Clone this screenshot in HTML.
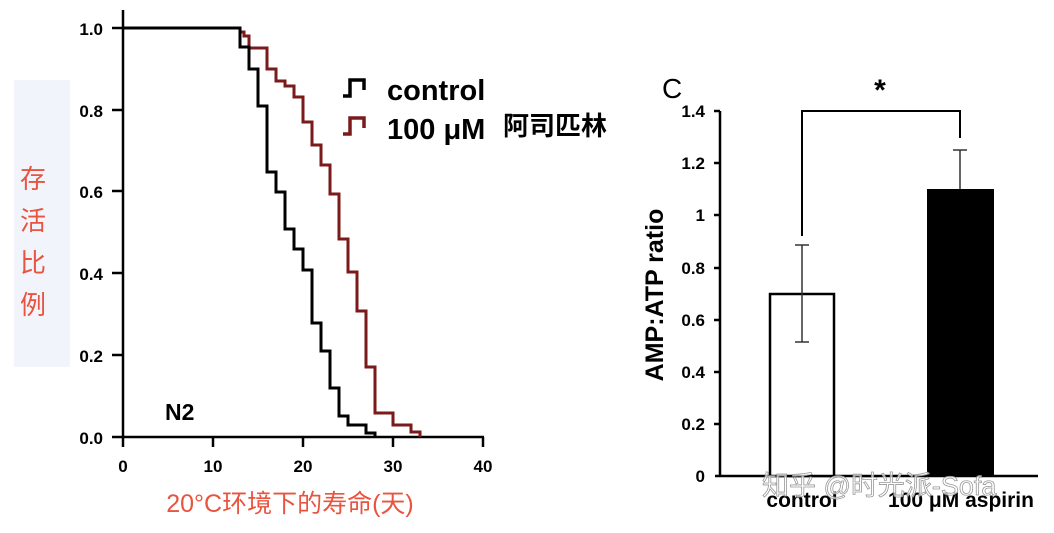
<!DOCTYPE html>
<html><head><meta charset="utf-8"><style>
body{margin:0;width:1054px;height:528px;background:#fff;overflow:hidden}
</style></head><body>
<svg width="1054" height="528" xmlns="http://www.w3.org/2000/svg" font-family="Liberation Sans, Noto Sans CJK SC, sans-serif">
<rect x="14" y="80" width="56" height="287" fill="#f1f4fa"/>
<g fill="#e8543f" font-size="26" text-anchor="middle">
<text x="33" y="188">存</text><text x="33" y="230">活</text><text x="33" y="272">比</text><text x="33" y="314">例</text>
<text x="290" y="512" font-size="25">20°C环境下的寿命(天)</text>
</g>
<g stroke="#000" stroke-width="2.5" fill="none">
<line x1="123" y1="10" x2="123" y2="437"/>
<line x1="112" y1="437" x2="484" y2="437"/>
<line x1="112" y1="28" x2="123" y2="28"/><line x1="112" y1="110" x2="123" y2="110"/><line x1="112" y1="191" x2="123" y2="191"/><line x1="112" y1="273" x2="123" y2="273"/><line x1="112" y1="355" x2="123" y2="355"/>
<line x1="123" y1="437" x2="123" y2="447"/><line x1="213" y1="437" x2="213" y2="447"/><line x1="303" y1="437" x2="303" y2="447"/><line x1="393" y1="437" x2="393" y2="447"/><line x1="483" y1="437" x2="483" y2="447"/>
</g>
<g font-weight="bold" font-size="17" text-anchor="end">
<text x="103" y="35">1.0</text><text x="103" y="117">0.8</text><text x="103" y="198">0.6</text><text x="103" y="280">0.4</text><text x="103" y="362">0.2</text><text x="103" y="444">0.0</text>
</g>
<g font-weight="bold" font-size="17" text-anchor="middle">
<text x="123" y="472">0</text><text x="213" y="472">10</text><text x="303" y="472">20</text><text x="393" y="472">30</text><text x="483" y="472">40</text>
</g>
<text x="165" y="420" font-weight="bold" font-size="23">N2</text>
<polyline fill="none" stroke="#7a1a1a" stroke-width="3" points="123,28 240,28 240,32 244,32 244,36 249,36 249,48 267,48 267,69 276,69 276,81 285,81 285,86 294,86 294,97 303,97 303,122 312,122 312,145 321,145 321,165 330,165 330,194 339,194 339,239 348,239 348,272 357,272 357,311 366,311 366,367 375,367 375,413 393,413 393,425 411,425 411,432 420,432 420,437"/>
<polyline fill="none" stroke="#000" stroke-width="3" points="123,28 240,28 240,47 249,47 249,69 258,69 258,106 267,106 267,172 276,172 276,192 285,192 285,229 294,229 294,249 303,249 303,270 312,270 312,323 321,323 321,351 330,351 330,388 339,388 339,416 348,416 348,425 366,425 366,433 375,433 375,437"/>
<path d="M343,96 h7 v-16 h14 v10" fill="none" stroke="#000" stroke-width="3.5"/>
<path d="M343,134 h7 v-16 h14 v10" fill="none" stroke="#7a1a1a" stroke-width="3.5"/>
<text x="387" y="100" font-weight="bold" font-size="29">control</text>
<text x="387" y="139" font-weight="bold" font-size="29">100 μM</text>
<text x="503" y="135" font-weight="bold" font-size="26">阿司匹林</text>
<text x="662" y="98" font-size="28">C</text>
<text x="880" y="100" font-weight="bold" font-size="30" text-anchor="middle">*</text>
<g stroke="#000" stroke-width="2.5" fill="none">
<line x1="720" y1="111" x2="720" y2="477"/>
<line x1="715" y1="476" x2="1038" y2="476"/>
<line x1="714" y1="111" x2="720" y2="111"/><line x1="714" y1="163" x2="720" y2="163"/><line x1="714" y1="215" x2="720" y2="215"/><line x1="714" y1="268" x2="720" y2="268"/><line x1="714" y1="320" x2="720" y2="320"/><line x1="714" y1="372" x2="720" y2="372"/><line x1="714" y1="424" x2="720" y2="424"/>
</g>
<g font-weight="bold" font-size="17" text-anchor="end">
<text x="705" y="117">1.4</text><text x="705" y="169">1.2</text><text x="705" y="221">1</text><text x="705" y="274">0.8</text><text x="705" y="326">0.6</text><text x="705" y="378">0.4</text><text x="705" y="430">0.2</text><text x="705" y="482">0</text>
</g>
<text transform="translate(663,295) rotate(-90)" font-weight="bold" font-size="25" text-anchor="middle">AMP:ATP ratio</text>
<rect x="770" y="294" width="64" height="182" fill="#fff" stroke="#000" stroke-width="2.5"/>
<rect x="927" y="189" width="67" height="287" fill="#000"/>
<g stroke="#333" stroke-width="1.5">
<line x1="802" y1="245" x2="802" y2="342"/><line x1="795" y1="245" x2="809" y2="245"/><line x1="795" y1="342" x2="809" y2="342"/>
<line x1="960" y1="150" x2="960" y2="189"/><line x1="953" y1="150" x2="967" y2="150"/>
</g>
<path d="M802,236 V111 H960 V138" fill="none" stroke="#000" stroke-width="2"/>
<text x="802" y="507" font-weight="bold" font-size="21" text-anchor="middle">control</text>
<text x="961" y="507" font-weight="bold" font-size="21" text-anchor="middle">100 μM aspirin</text>
<text x="762" y="495" font-size="27" fill="#fff" fill-opacity="0.7" stroke="#999" stroke-width="0.8">知乎 @时光派-Sofa</text>
</svg>
</body></html>
